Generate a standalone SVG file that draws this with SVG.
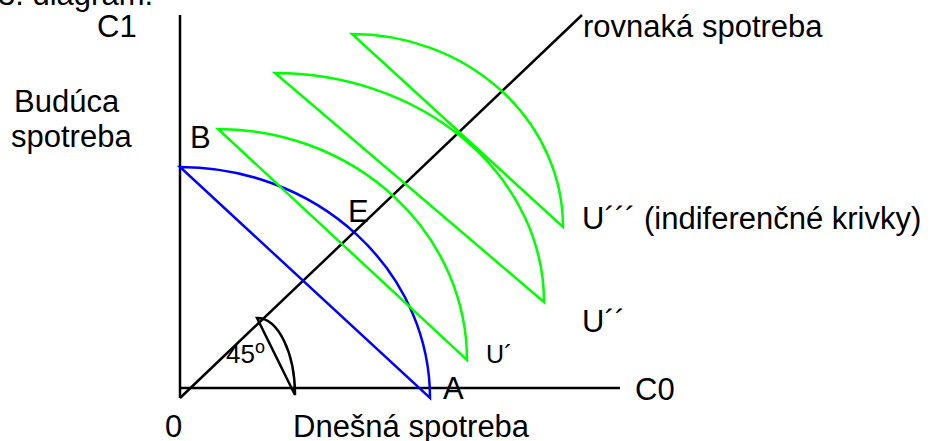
<svg xmlns="http://www.w3.org/2000/svg" width="932" height="441" viewBox="0 0 932 441">
<style>
text { font-family: "Liberation Sans", Arial, sans-serif; font-size: 31px; fill: #000; }
.ax { stroke: #000; stroke-width: 2.5; fill: none; }
.g { stroke: #00FF00; stroke-width: 2.5; fill: none; stroke-linejoin: miter; }
.b { stroke: #0000FF; stroke-width: 2.5; fill: none; }
</style>
<rect width="932" height="441" fill="#fff"/>
<text x="-2" y="5">3. diagram.</text>
<g id="axes">
<line class="ax" x1="180" y1="15" x2="180" y2="398"/>
<line class="ax" x1="180" y1="388" x2="620" y2="388"/>
<line class="ax" x1="180" y1="398" x2="582" y2="15"/>
</g>
<g id="budget">
<path class="b" d="M180,167 A250,231 0 0 1 430,398 L180,167 Z"/>
</g>
<g id="indifference">
<path class="g" d="M218,129 A249,231 0 0 1 467,360 L218,129 Z"/>
<path class="g" d="M275,73 A269,229 0 0 1 544,302 L275,73 Z"/>
<path class="g" d="M352,34 A211,193 0 0 1 563,227 L352,34 Z"/>
</g>
<g id="angle">
<path class="ax" d="M257,318 A38,77 0 0 1 295,395 L257,318 Z"/>
<text x="226" y="363" style="font-size:26px">45<tspan x="255" y="353" style="font-size:18px">o</tspan></text>
</g>
<g id="labels">
<text x="97" y="37">C1</text>
<text x="14" y="112">Budúca</text>
<text x="11" y="147">spotreba</text>
<text x="190" y="148">B</text>
<text x="348" y="222">E</text>
<text x="583" y="37">rovnaká spotreba</text>
<text x="582" y="229">U´´´ (indiferenčné krivky)</text>
<text x="582" y="332">U´´</text>
<text x="486" y="363" style="font-size:25px">U´</text>
<text x="635" y="400">C0</text>
<text x="443" y="399">A</text>
<text x="165" y="437">0</text>
<text x="293" y="437">Dnešná spotreba</text>
</g>
</svg>
